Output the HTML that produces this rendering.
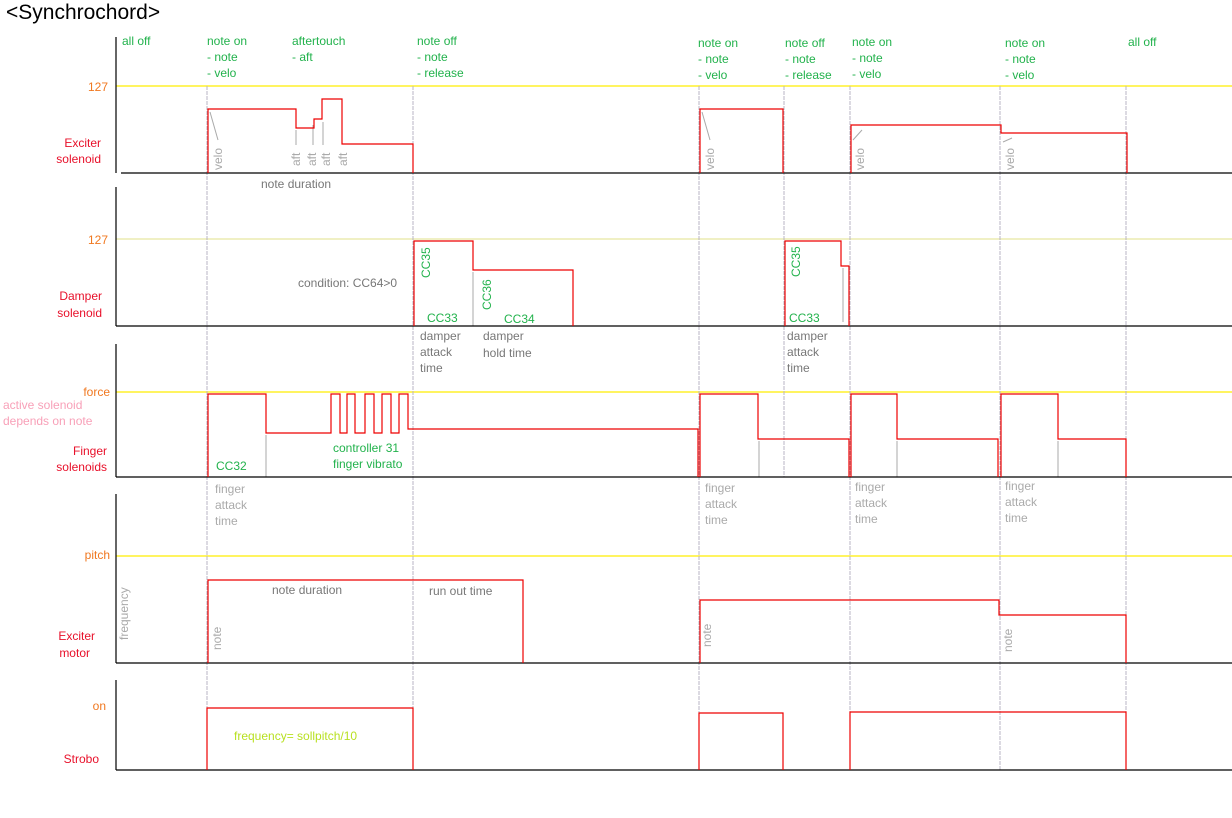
<!DOCTYPE html>
<html><head><meta charset="utf-8"><style>
body{margin:0;background:#fff}
svg{display:block}
text{font-family:"Liberation Sans",sans-serif;font-size:12px}
.g{fill:#22b24c}.gr{fill:#777}.lg{fill:#aaa}.r{fill:#e8102a}.o{fill:#f07820}
</style></head><body>
<svg width="1232" height="818" viewBox="0 0 1232 818" xmlns="http://www.w3.org/2000/svg">
<text x="6" y="19" style="font-size:21px" fill="#000">&lt;Synchrochord&gt;</text>
<!-- yellow lines -->
<g stroke="#ffee00" stroke-width="1.2">
<line x1="116" y1="86" x2="1232" y2="86"/><line x1="116" y1="239" x2="1232" y2="239" stroke="#e8e8a0"/>
<line x1="116" y1="392" x2="1232" y2="392"/><line x1="116" y1="556" x2="1232" y2="556"/>
</g>
<!-- markers -->
<g stroke="#b8b4c4" stroke-width="1" stroke-dasharray="4,1">
<line x1="207" y1="86" x2="207" y2="770"/><line x1="413" y1="86" x2="413" y2="770"/>
<line x1="699" y1="86" x2="699" y2="770"/><line x1="784" y1="86" x2="784" y2="477"/>
<line x1="850" y1="86" x2="850" y2="770"/><line x1="1000" y1="86" x2="1000" y2="770"/>
<line x1="1126" y1="86" x2="1126" y2="770"/>
</g>
<!-- small grey ticks -->
<g stroke="#aaa" stroke-width="1">
<line x1="210" y1="112" x2="218" y2="140"/><line x1="702" y1="112" x2="710" y2="140"/>
<line x1="853" y1="140" x2="862" y2="130"/><line x1="1003" y1="142" x2="1012" y2="138"/>
<line x1="296" y1="130" x2="296" y2="145"/><line x1="313" y1="125" x2="313" y2="145"/><line x1="323" y1="122" x2="323" y2="145"/>
<line x1="473" y1="272" x2="473" y2="326"/><line x1="843" y1="268" x2="843" y2="322"/>
<line x1="266" y1="435" x2="266" y2="477"/><line x1="759" y1="441" x2="759" y2="477"/>
<line x1="897" y1="441" x2="897" y2="477"/><line x1="1058" y1="441" x2="1058" y2="477"/>
</g>
<!-- axes -->
<g stroke="#000" stroke-width="1.2">
<line x1="116" y1="37" x2="116" y2="173"/><line x1="121" y1="173" x2="1232" y2="173"/>
<line x1="116" y1="187" x2="116" y2="326"/><line x1="116" y1="326" x2="1232" y2="326"/>
<line x1="116" y1="344" x2="116" y2="477"/><line x1="116" y1="477" x2="1232" y2="477"/>
<line x1="116" y1="494" x2="116" y2="663"/><line x1="116" y1="663" x2="1232" y2="663"/>
<line x1="116" y1="680" x2="116" y2="770"/><line x1="116" y1="770" x2="1232" y2="770"/>
</g>
<!-- signals -->
<g stroke="#ee0000" stroke-width="1.2" fill="none">
<path d="M208,173V109H296V128H314V119H322V99H342V144H413V173"/>
<path d="M700,173V109H783V173"/>
<path d="M851,173V125H1001V133H1127V173"/>
<path d="M414,326V241H473V270H573V326"/>
<path d="M785,326V241H841V266H849V326"/>
<path d="M208,477V394H266V433H331V394H340V433H347V394H355V433H365V394H374V433H382V394H391V433H399V394H408V429H698V477"/>
<path d="M700,477V394H758V439H849V477"/>
<path d="M851,477V394H897V439H998V477"/>
<path d="M1001,477V394H1058V439H1126V477"/>
<path d="M208,663V580H523V663"/>
<path d="M700,663V600H999V615H1126V663"/>
<path d="M207,770V708H413V770"/>
<path d="M699,770V713H783V770"/>
<path d="M850,770V712H1126V770"/>
</g>
<!-- top labels -->
<g class="g">
<text x="122" y="45">all off</text>
<text x="207" y="45">note on</text><text x="207" y="61">- note</text><text x="207" y="77">- velo</text>
<text x="292" y="45">aftertouch</text><text x="292" y="61">- aft</text>
<text x="417" y="45">note off</text><text x="417" y="61">- note</text><text x="417" y="77">- release</text>
<text x="698" y="47">note on</text><text x="698" y="63">- note</text><text x="698" y="79">- velo</text>
<text x="785" y="47">note off</text><text x="785" y="63">- note</text><text x="785" y="79">- release</text>
<text x="852" y="46">note on</text><text x="852" y="62">- note</text><text x="852" y="78">- velo</text>
<text x="1005" y="47">note on</text><text x="1005" y="63">- note</text><text x="1005" y="79">- velo</text>
<text x="1128" y="46">all off</text>
</g>
<!-- left labels -->
<g class="o" text-anchor="end">
<text x="108" y="91">127</text><text x="108" y="244">127</text>
<text x="110" y="396">force</text><text x="110" y="559">pitch</text><text x="106" y="710">on</text>
</g>
<g class="r" text-anchor="end">
<text x="101" y="147">Exciter</text><text x="101" y="163">solenoid</text>
<text x="102" y="300">Damper</text><text x="102" y="317">solenoid</text>
<text x="107" y="455">Finger</text><text x="107" y="471">solenoids</text>
<text x="95" y="640">Exciter</text><text x="90" y="657">motor</text>
<text x="99" y="763">Strobo</text>
</g>
<text x="3" y="409" fill="#f8a0b8">active solenoid</text>
<text x="3" y="425" fill="#f8a0b8">depends on note</text>
<!-- inner labels -->
<text x="261" y="188" class="gr">note duration</text>
<text x="298" y="287" class="gr">condition: CC64&gt;0</text>
<g class="gr"><text x="420" y="340">damper</text><text x="420" y="356">attack</text><text x="420" y="372">time</text>
<text x="483" y="340">damper</text><text x="483" y="357">hold time</text>
<text x="787" y="340">damper</text><text x="787" y="356">attack</text><text x="787" y="372">time</text>
<text x="272" y="594">note duration</text><text x="429" y="595">run out time</text></g>
<g class="g"><text x="427" y="322">CC33</text><text x="504" y="323">CC34</text><text x="789" y="322">CC33</text>
<text x="216" y="470">CC32</text><text x="333" y="452">controller 31</text><text x="333" y="468">finger vibrato</text>
<text transform="translate(430,278) rotate(-90)">CC35</text>
<text transform="translate(491,310) rotate(-90)">CC36</text>
<text transform="translate(800,277) rotate(-90)">CC35</text></g>
<g class="lg"><text x="215" y="493">finger</text><text x="215" y="509">attack</text><text x="215" y="525">time</text>
<text x="705" y="492">finger</text><text x="705" y="508">attack</text><text x="705" y="524">time</text>
<text x="855" y="491">finger</text><text x="855" y="507">attack</text><text x="855" y="523">time</text>
<text x="1005" y="490">finger</text><text x="1005" y="506">attack</text><text x="1005" y="522">time</text>
<text transform="translate(222,170) rotate(-90)">velo</text>
<text transform="translate(714,170) rotate(-90)">velo</text>
<text transform="translate(864,170) rotate(-90)">velo</text>
<text transform="translate(1014,170) rotate(-90)">velo</text>
<text transform="translate(300,166) rotate(-90)">aft</text>
<text transform="translate(316,166) rotate(-90)">aft</text>
<text transform="translate(330,166) rotate(-90)">aft</text>
<text transform="translate(347,166) rotate(-90)">aft</text>
<text transform="translate(128,640) rotate(-90)">frequency</text>
<text transform="translate(221,650) rotate(-90)">note</text>
<text transform="translate(711,647) rotate(-90)">note</text>
<text transform="translate(1012,652) rotate(-90)">note</text></g>
<text x="234" y="740" fill="#b8e020">frequency= sollpitch/10</text>
</svg>
</body></html>
